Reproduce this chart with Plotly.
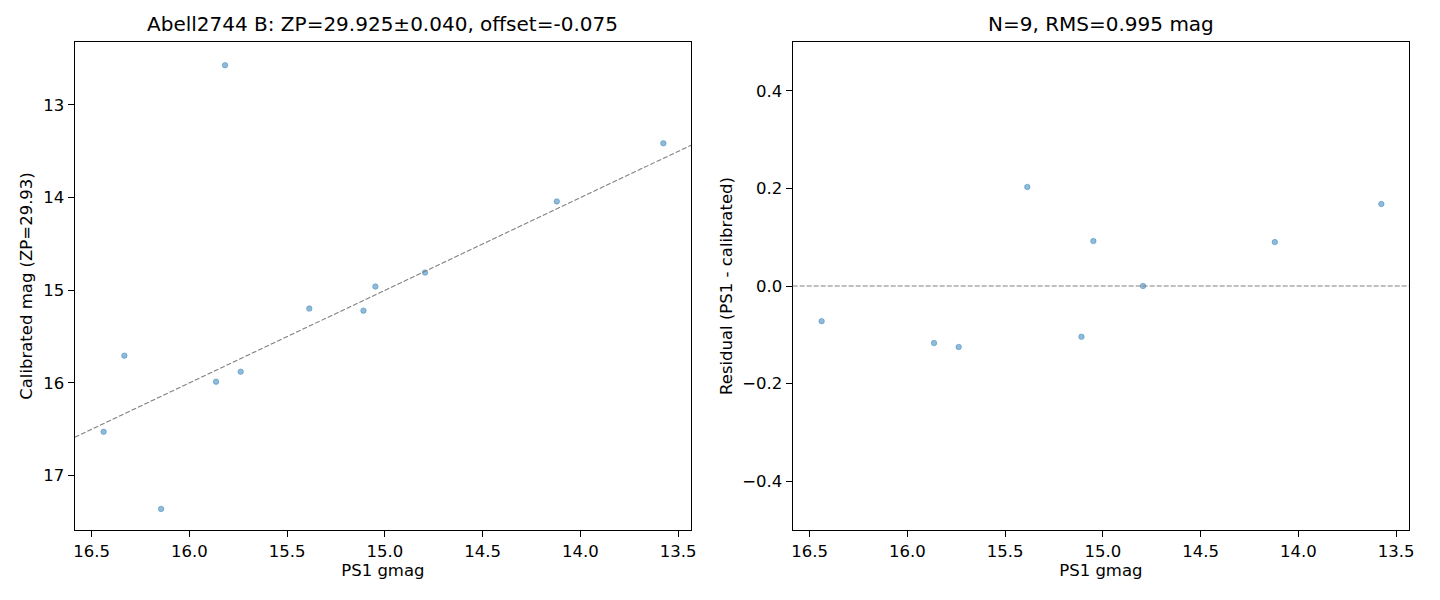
import plotly.graph_objects as go
from plotly.subplots import make_subplots

# ---- data ----
# left panel: all matched stars
ps1_all = [16.439, 16.333, 16.145, 15.864, 15.818, 15.738, 15.387, 15.110, 15.049, 14.795, 14.121, 13.576]
cal_all = [16.528, 15.706, 17.360, 15.987, 12.571, 15.879, 15.198, 15.220, 14.960, 14.809, 14.041, 13.414]

# right panel: the 9 stars kept in the fit
ps1_fit = [16.439, 15.864, 15.738, 15.387, 15.110, 15.049, 14.795, 14.121, 13.576]
resid = [-0.072, -0.117, -0.125, 0.203, -0.104, 0.092, 0.000, 0.090, 0.168]

# 1:1 reference line (calibrated = PS1 + shift)
line_x = [16.587, 13.434]
line_shift = 0.0
line_y = [v + line_shift for v in line_x]

x_range = [16.587, 13.434]
y_range_left = [17.588, 12.32]
y_range_right = [-0.5, 0.5]

left_yticks = [13, 14, 15, 16, 17]
right_yticks = [-0.4, -0.2, 0.0, 0.2, 0.4]
xticks = [16.5, 16.0, 15.5, 15.0, 14.5, 14.0, 13.5]

title_left = "Abell2744 B: ZP=29.925±0.040, offset=-0.075"
title_right = "N=9, RMS=0.995 mag"

FONT = "DejaVu Sans"
dot_color = "rgba(31,119,180,0.5)"

fig = make_subplots(rows=1, cols=2)

fig.add_trace(go.Scatter(
    x=ps1_all, y=cal_all, mode="markers",
    marker=dict(size=5.5, color=dot_color, line=dict(width=0.8, color=dot_color)),
    showlegend=False), row=1, col=1)
fig.add_trace(go.Scatter(
    x=line_x, y=line_y, mode="lines",
    line=dict(color="gray", width=1.1, dash="5px,2px"),
    showlegend=False), row=1, col=1)

fig.add_trace(go.Scatter(
    x=ps1_fit, y=resid, mode="markers",
    marker=dict(size=5.5, color=dot_color, line=dict(width=0.8, color=dot_color)),
    showlegend=False), row=1, col=2)
fig.add_hline(y=0, line=dict(color="gray", width=1.1, dash="5px,2px"), row=1, col=2)

# ---- layout ----
W, H = 1440, 600
yd = [1 - 530 / H, 1 - 42 / H]

axis_style = dict(
    showline=True, linecolor="black", linewidth=1.3, mirror=True,
    ticks="outside", ticklen=6, tickwidth=1.3, tickcolor="black",
    showgrid=False, zeroline=False,
    tickfont=dict(family=FONT, size=16.5, color="black"),
)

fig.update_layout(
    width=W, height=H,
    margin=dict(l=0, r=0, t=0, b=0),
    paper_bgcolor="white", plot_bgcolor="white",
    font=dict(family=FONT, color="black"),
    xaxis=dict(domain=[74 / W, 693 / W], range=x_range, tickvals=xticks,
               tickformat=".1f",
               title=dict(text="PS1 gmag", font=dict(size=16.5), standoff=3),
               **axis_style),
    yaxis=dict(domain=yd, range=y_range_left, tickvals=left_yticks,
               title=dict(text="Calibrated mag (ZP=29.93)", font=dict(size=16.5), standoff=6),
               **axis_style),
    xaxis2=dict(domain=[795 / W, 1414 / W], range=x_range, tickvals=xticks,
                tickformat=".1f",
                title=dict(text="PS1 gmag", font=dict(size=16.5), standoff=3),
                **axis_style),
    yaxis2=dict(domain=yd, range=y_range_right, tickvals=right_yticks,
                tickformat=".1f",
                title=dict(text="Residual (PS1 - calibrated)", font=dict(size=16.5), standoff=5),
                **axis_style),
)

for txt, x0, x1 in [(title_left, 74, 693), (title_right, 795, 1414)]:
    fig.add_annotation(
        text=txt, xref="paper", yref="paper",
        x=(x0 + x1) / 2 / W, y=1 - 38 / H,
        xanchor="center", yanchor="bottom", showarrow=False,
        font=dict(family=FONT, size=20, color="black"))

fig.write_html("out.html", config={"displayModeBar": False},
               post_script="document.body.style.margin='0';")
